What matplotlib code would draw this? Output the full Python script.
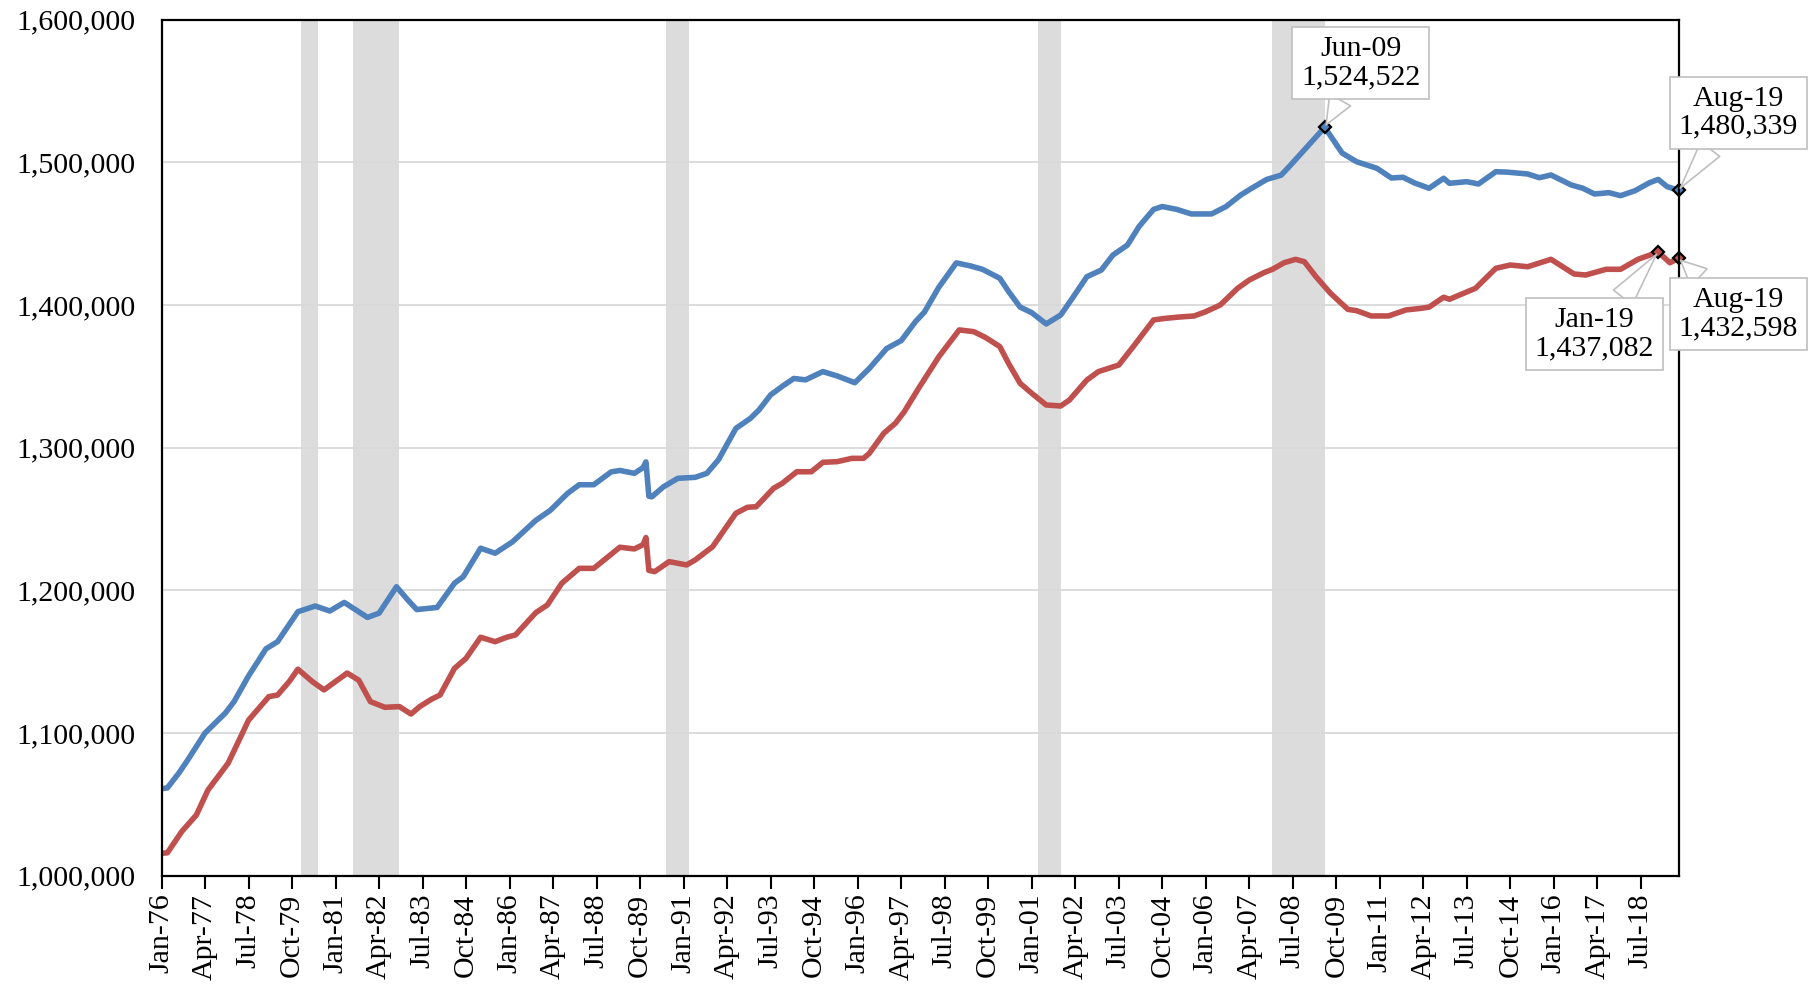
#!/usr/bin/env python3
"""
plot.py

Two monthly series, Jan-76 to Aug-19, with recession bands
and callouts on the peak / latest points.
"""

import matplotlib
matplotlib.use("Agg")

import matplotlib.pyplot as plt
from matplotlib.ticker import FuncFormatter, MultipleLocator

# ============================================================
# DATA  (month offset from Jan-76)
# ============================================================

START_YEAR = 1976
MONTH_NAMES = ["Jan", "Feb", "Mar", "Apr", "May", "Jun",
               "Jul", "Aug", "Sep", "Oct", "Nov", "Dec"]

blue_months = [
    0, 2, 6, 9, 15, 22, 25, 30, 36, 40, 44, 47, 53, 58, 63, 71, 75, 81,
    85, 88, 95, 101, 104, 110, 115, 121, 129, 134, 140, 144, 149, 155,
    158, 163, 166, 167, 168, 169, 173, 178, 184, 188, 192, 198, 203, 206,
    210, 214, 218, 222, 228, 233, 239, 244, 250, 255, 260, 263, 268, 274,
    279, 283, 289, 292, 296, 300, 305, 310, 314, 319, 324, 328, 333, 337,
    342, 345, 350, 355, 362, 367, 372, 376, 381, 386, 389, 395, 401, 407,
    412, 419, 424, 428, 432, 437, 442, 444, 450, 454, 460, 464, 471, 475,
    479, 486, 490, 494, 499, 503, 508, 513, 516, 519, 523,
]
blue_values = [
    1061000, 1061500, 1072000, 1081000, 1100000, 1114000, 1122000,
    1140000, 1159000, 1164000, 1176000, 1185000, 1189000, 1185500,
    1191500, 1181000, 1184000, 1202500, 1193000, 1186500, 1188000,
    1205000, 1209500, 1229500, 1226000, 1234000, 1249000, 1256000,
    1268000, 1274000, 1274000, 1283000, 1284000, 1282000, 1286000,
    1290000, 1266000, 1265500, 1272500, 1278500, 1279200, 1282000,
    1291500, 1313500, 1320500, 1326500, 1337000, 1343000, 1348500,
    1347500, 1353300, 1350200, 1345500, 1355500, 1369500, 1375000,
    1388500, 1395000, 1412500, 1429500, 1427300, 1425000, 1418700,
    1409500, 1398500, 1394600, 1386700, 1393000, 1404700, 1419800,
    1424500, 1435000, 1442000, 1455000, 1467000, 1469000, 1467000,
    1463800, 1463800, 1469000, 1477000, 1482000, 1488000, 1491000,
    1497500, 1511000, 1524522, 1506500, 1500400, 1495800, 1489000,
    1489500, 1485500, 1481800, 1488800, 1485300, 1486400, 1484800,
    1493400, 1493100, 1491800, 1489200, 1491100, 1484100, 1481800,
    1477800, 1478700, 1476600, 1480100, 1485700, 1488000, 1483000,
    1480339,
]

red_months = [
    0, 2, 7, 12, 16, 23, 30, 37, 40, 44, 47, 52, 56, 64, 68, 72, 77, 82,
    86, 89, 93, 96, 101, 105, 110, 115, 119, 122, 129, 133, 138, 144,
    149, 154, 158, 163, 166, 167, 168, 170, 175, 181, 184, 190, 198, 202,
    205, 211, 214, 219, 224, 228, 233, 238, 242, 244, 249, 253, 256, 261,
    268, 275, 280, 284, 289, 292, 296, 300, 305, 310, 313, 319, 323, 330,
    335, 342, 346, 350, 356, 360, 365, 371, 375, 380, 383, 387, 391, 394,
    398, 403, 409, 412, 417, 423, 429, 434, 437, 442, 444, 453, 460, 465,
    471, 479, 487, 491, 498, 503, 509, 516, 519, 520, 523,
]
red_values = [
    1015700, 1016000, 1031000, 1042500, 1060000, 1079000, 1109000,
    1125500, 1126600, 1136000, 1144700, 1136000, 1130200, 1142000,
    1137000, 1122000, 1118000, 1118500, 1113300, 1118500, 1123600,
    1126600, 1145300, 1152400, 1167100, 1164000, 1167100, 1168700,
    1184300, 1189700, 1205000, 1215400, 1215400, 1223600, 1230200,
    1229000, 1232000, 1237000, 1214000, 1213100, 1220100, 1217800,
    1221300, 1230600, 1254000, 1258200, 1258600, 1271500, 1275000,
    1283100, 1283100, 1289700, 1290200, 1292500, 1292500, 1296000,
    1310100, 1317100, 1325000, 1341600, 1363800, 1382500, 1381300,
    1377300, 1370800, 1359100, 1345100, 1338100, 1329900, 1329200,
    1333400, 1347400, 1353300, 1357900, 1370800, 1389500, 1390600,
    1391400, 1392300, 1395300, 1400000, 1411700, 1417500, 1422600,
    1425000, 1429600, 1432000, 1430300, 1419800, 1408200, 1396900,
    1396000, 1392300, 1392300, 1396500, 1397600, 1398500, 1405400,
    1404000, 1411700, 1425700, 1428000, 1426800, 1432000, 1421700,
    1421000, 1425000, 1425000, 1432000, 1437082, 1431500, 1429600,
    1432598,
]

# recessions (start month, end month) as offsets from Jan-76
recession_starts = [48, 66, 174, 302, 383]
recession_ends = [54, 82, 182, 310, 401]

# highlighted points
blue_marks = [401, 523]
red_marks = [516, 523]

LAST_MONTH = 523
TICK_STEP = 15

BLUE = "#4F81BD"
RED = "#C0504D"
BAND = "#DCDCDC"
GRID = "#D9D9D9"
FONT = ["Liberation Serif", "DejaVu Serif"]
FS = 21.5


def month_label(m):
    year = START_YEAR + m // 12
    return f"{MONTH_NAMES[m % 12]}-{year % 100:02d}"


def value_at(months, values, m):
    return values[months.index(m)]


# ============================================================
# PLOT
# ============================================================

def main():

    plt.rcParams["font.family"] = FONT

    fig = plt.figure(figsize=(18.09, 9.86), dpi=100)
    ax = fig.add_axes([0.0893, 0.1119, 0.8386, 0.8682])

    for s, e in zip(recession_starts, recession_ends):
        ax.axvspan(s, e, color=BAND, lw=0, zorder=0)

    ax.grid(axis="y", color=GRID, lw=1.3, zorder=1)

    ax.plot(blue_months, blue_values, color=BLUE, lw=4,
            solid_joinstyle="round", solid_capstyle="round", zorder=3)
    ax.plot(red_months, red_values, color=RED, lw=4,
            solid_joinstyle="round", solid_capstyle="round", zorder=3)

    # markers on the annotated points
    for months, values, marks, col in [
        (blue_months, blue_values, blue_marks, BLUE),
        (red_months, red_values, red_marks, RED),
    ]:
        ys = [value_at(months, values, m) for m in marks]
        ax.plot(marks, ys, ls="none", marker="D", ms=6, mfc=col,
                mec="black", mew=1.6, zorder=4, clip_on=False)

    # ---------------------------------
    # Callouts
    # ---------------------------------

    callouts = [
        (blue_months, blue_values, 401, (26, 46)),
        (blue_months, blue_values, 523, (43, 56)),
        (red_months, red_values, 516, (-46, -59)),
        (red_months, red_values, 523, (43, -40)),
    ]

    for months, values, m, offset in callouts:
        v = value_at(months, values, m)
        ax.annotate(
            f"{month_label(m)}\n{v:,.0f}",
            xy=(m, v),
            xytext=offset,
            textcoords="offset points",
            ha="center",
            va="center",
            fontsize=FS,
            linespacing=1.1,
            annotation_clip=False,
            zorder=6,
            bbox=dict(boxstyle="square,pad=0.3", fc="white",
                      ec="#BFBFBF", lw=1.2),
            arrowprops=dict(arrowstyle="wedge,tail_width=0.8",
                            fc="white", ec="#BFBFBF", lw=1.2,
                            shrinkA=0, shrinkB=2),
        )

    # ---------------------------------
    # Axes
    # ---------------------------------

    ax.set_xlim(0, LAST_MONTH)
    ax.set_ylim(1000000, 1600000)

    ticks = list(range(0, LAST_MONTH + 1, TICK_STEP))
    ax.set_xticks(ticks)
    ax.set_xticklabels([month_label(t) for t in ticks], rotation=90,
                       fontsize=FS)
    ax.tick_params(axis="x", direction="out", length=9, width=1.5,
                   pad=4)

    ax.yaxis.set_major_locator(MultipleLocator(100000))
    ax.yaxis.set_major_formatter(FuncFormatter(lambda v, p: f"{v:,.0f}"))
    ax.tick_params(axis="y", length=0, pad=19, labelsize=FS)

    for side in ["left", "right", "top", "bottom"]:
        ax.spines[side].set_color("black")
        ax.spines[side].set_linewidth(1.6)
        ax.spines[side].set_zorder(5)

    fig.savefig("out.png", dpi=100)
    plt.close(fig)


if __name__ == "__main__":
    main()
